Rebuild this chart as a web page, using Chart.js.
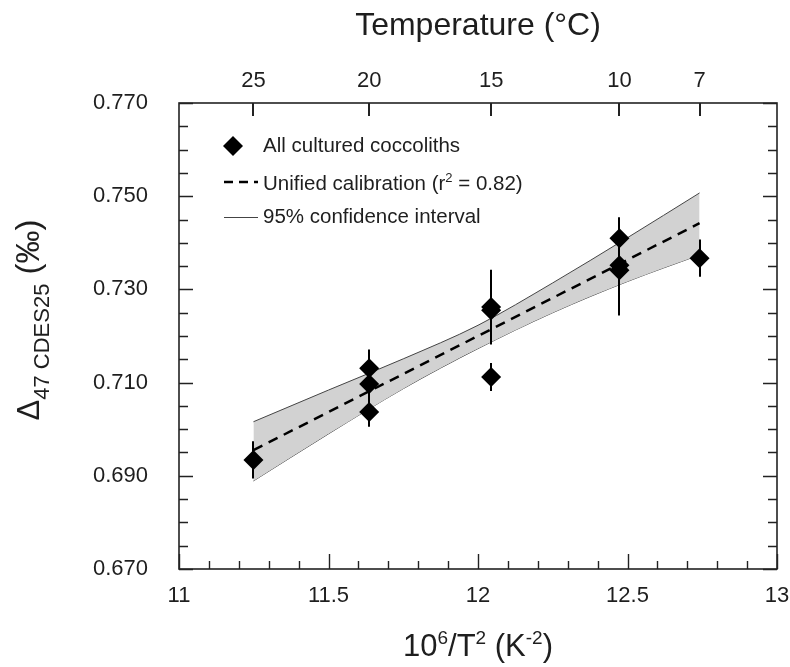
<!DOCTYPE html>
<html><head><meta charset="utf-8">
<script src="https://cdn.jsdelivr.net/npm/chart.js@4/dist/chart.umd.min.js"></script>
<style>html,body{margin:0;padding:0;background:#fff;} #wrap{width:790px;height:667px;}</style>
</head><body><div id="wrap"><canvas id="c" width="790" height="667"></canvas></div>
<script>
// ---- data ----
const invT2   = [11.249, 11.636, 11.636, 11.636, 12.044, 12.044, 12.044, 12.473, 12.473, 12.473, 12.741];
const d47     = [0.6934, 0.7131, 0.7097, 0.7037, 0.7262, 0.7255, 0.7112, 0.7410, 0.7352, 0.7341, 0.7367];
const d47Err  = [0.0040, 0.0040, 0.0030, 0.0032, 0.0080, 0.0060, 0.0030, 0.0045, 0.0060, 0.0097, 0.0040];
const fitX    = [11.249, 12.741];
const fitY    = [0.6955, 0.7442];
const bandX     = [11.249, 11.5, 11.75, 12.0, 12.25, 12.5, 12.741];
const bandUpper = [0.7016, 0.7084, 0.7151, 0.7223, 0.7314, 0.7411, 0.7507];
const bandLower = [0.6889, 0.6990, 0.7087, 0.7173, 0.7250, 0.7317, 0.7374];
const yTickVals   = [0.670, 0.690, 0.710, 0.730, 0.750, 0.770];
const yTickLabels = ['0.670', '0.690', '0.710', '0.730', '0.750', '0.770'];
const xTickVals   = [11, 11.5, 12, 12.5, 13];
const xTickLabels = ['11', '11.5', '12', '12.5', '13'];
const tempTickPos    = [11.249, 11.636, 12.044, 12.473, 12.741];
const tempTickLabels = ['25', '20', '15', '10', '7'];
const legendLabels = ['All cultured coccoliths', 'Unified calibration (r', '95% confidence interval'];

const FONT = '"Liberation Sans", Arial, sans-serif';
const TXT = '#1e1e1e';

function pts(xs, ys) { return xs.map((x, i) => ({x: x, y: ys[i]})); }

const decor = {
  id: 'decor',
  afterDatasetsDraw(chart) {
    const ctx = chart.ctx, xs = chart.scales.x, ys = chart.scales.y;
    ctx.save();
    ctx.strokeStyle = '#000';
    ctx.lineWidth = 2;
    for (let i = 0; i < invT2.length; i++) {
      const px = Math.round(xs.getPixelForValue(invT2[i]));
      ctx.beginPath();
      ctx.moveTo(px, ys.getPixelForValue(d47[i] + d47Err[i]));
      ctx.lineTo(px, ys.getPixelForValue(d47[i] - d47Err[i]));
      ctx.stroke();
    }
    ctx.restore();
  },
  afterDraw(chart) {
    const ctx = chart.ctx, a = chart.chartArea, xs = chart.scales.x, ys = chart.scales.y;
    ctx.save();
    ctx.strokeStyle = '#222';
    ctx.lineWidth = 1.6;
    ctx.strokeRect(a.left, a.top, a.right - a.left, a.bottom - a.top);
    ctx.lineWidth = 1.4;
    // y ticks (left and right, inward)
    for (let i = 0; i <= 20; i++) {
      const v = 0.670 + i * 0.005;
      const py = Math.round(ys.getPixelForValue(v)) + 0.5;
      const len = (i % 4 === 0) ? 14 : 9;
      ctx.beginPath();
      ctx.moveTo(a.left, py); ctx.lineTo(a.left + len, py);
      ctx.moveTo(a.right, py); ctx.lineTo(a.right - len, py);
      ctx.stroke();
    }
    // x ticks bottom
    for (let i = 0; i <= 20; i++) {
      const v = 11 + i * 0.1;
      const px = Math.round(xs.getPixelForValue(v)) + 0.5;
      const len = (i % 5 === 0) ? 15 : 8;
      ctx.beginPath();
      ctx.moveTo(px, a.bottom); ctx.lineTo(px, a.bottom - len);
      ctx.stroke();
    }
    // top temperature ticks
    ctx.lineWidth = 2;
    tempTickPos.forEach(v => {
      const px = Math.round(xs.getPixelForValue(v));
      ctx.beginPath(); ctx.moveTo(px, a.top); ctx.lineTo(px, a.top + 13); ctx.stroke();
    });
    // tick labels
    ctx.fillStyle = TXT;
    ctx.font = '22px ' + FONT;
    ctx.textAlign = 'right'; ctx.textBaseline = 'middle';
    yTickVals.forEach((v, i) => ctx.fillText(yTickLabels[i], a.left - 31, ys.getPixelForValue(v)));
    ctx.textAlign = 'center'; ctx.textBaseline = 'middle';
    xTickVals.forEach((v, i) => ctx.fillText(xTickLabels[i], xs.getPixelForValue(v), a.bottom + 27));
    tempTickPos.forEach((v, i) => ctx.fillText(tempTickLabels[i], xs.getPixelForValue(v), a.top - 22));
    // titles
    ctx.font = '32px ' + FONT;
    ctx.textBaseline = 'alphabetic';
    ctx.textAlign = 'center';
    ctx.fillText('Temperature (°C)', (a.left + a.right) / 2, 35);
    // bottom title with superscripts
    const parts = [['10', 31, 0], ['6', 19, -12], ['/T', 31, 0], ['2', 19, -12], [' (K', 31, 0], ['-2', 19, -12], [')', 31, 0]];
    drawParts(ctx, parts, (a.left + a.right) / 2, 656);
    // y title rotated
    ctx.save();
    ctx.translate(39, 320);
    ctx.rotate(-Math.PI / 2);
    const yparts = [['\u0394', 31, 0], ['47 CDES25', 22, 10], [' (\u2030)', 33, 0]];
    drawParts(ctx, yparts, 0, 0);
    ctx.restore();
    // legend
    const lx = 233, rows = [146, 182, 217], tx = 263;
    ctx.fillStyle = '#000';
    ctx.beginPath();
    ctx.moveTo(lx - 10, rows[0]); ctx.lineTo(lx, rows[0] - 10); ctx.lineTo(lx + 10, rows[0]); ctx.lineTo(lx, rows[0] + 10);
    ctx.closePath(); ctx.fill();
    ctx.strokeStyle = '#000'; ctx.lineWidth = 2.5; ctx.setLineDash([9, 6]);
    ctx.beginPath(); ctx.moveTo(224, rows[1]); ctx.lineTo(258, rows[1]); ctx.stroke();
    ctx.setLineDash([]);
    ctx.strokeStyle = '#444'; ctx.lineWidth = 1;
    ctx.beginPath(); ctx.moveTo(224, rows[2] + 0.5); ctx.lineTo(258, rows[2] + 0.5); ctx.stroke();
    ctx.fillStyle = TXT;
    ctx.textAlign = 'left'; ctx.textBaseline = 'middle';
    ctx.font = '20.5px ' + FONT;
    ctx.fillText(legendLabels[0], tx, rows[0]);
    drawPartsLeft(ctx, [[legendLabels[1], 20.5, 0], ['2', 13, -8], [' = 0.82)', 20.5, 0]], tx, rows[1] + 7.5);
    ctx.textBaseline = 'middle';
    ctx.textAlign = 'left';
    ctx.font = '20.5px ' + FONT;
    ctx.fillText(legendLabels[2], tx, rows[2]);
    ctx.restore();
  }
};

function drawParts(ctx, parts, cx, baseY) {
  let total = 0;
  parts.forEach(p => { ctx.font = p[1] + 'px ' + FONT; total += ctx.measureText(p[0]).width; });
  drawPartsLeft(ctx, parts, cx - total / 2, baseY);
}
function drawPartsLeft(ctx, parts, x, baseY) {
  ctx.textAlign = 'left'; ctx.textBaseline = 'alphabetic';
  parts.forEach(p => {
    ctx.font = p[1] + 'px ' + FONT;
    ctx.fillText(p[0], x, baseY + p[2]);
    x += ctx.measureText(p[0]).width;
  });
}

new Chart(document.getElementById('c'), {
  type: 'scatter',
  data: {
    datasets: [
      { label: 'points', data: pts(invT2, d47), pointStyle: 'rectRot', pointRadius: 10, pointHoverRadius: 10,
        backgroundColor: '#000', borderColor: '#000', borderWidth: 0, showLine: false },
      { label: 'fit', data: pts(fitX, fitY), showLine: true, pointRadius: 0, borderColor: '#000',
        borderWidth: 2.5, borderDash: [10, 7], fill: false },
      { label: 'upper', data: pts(bandX, bandUpper), showLine: true, pointRadius: 0, borderColor: '#444',
        borderWidth: 1, backgroundColor: '#d2d2d2', fill: '+1', cubicInterpolationMode: 'monotone' },
      { label: 'lower', data: pts(bandX, bandLower), showLine: true, pointRadius: 0, borderColor: '#444',
        borderWidth: 1, fill: false, cubicInterpolationMode: 'monotone' }
    ]
  },
  options: {
    responsive: false, animation: false, events: [],
    layout: { padding: { left: 179, right: 13, top: 103, bottom: 98 } },
    plugins: { legend: { display: false }, tooltip: { enabled: false } },
    scales: {
      x: { type: 'linear', min: 11, max: 13, display: false },
      y: { type: 'linear', min: 0.670, max: 0.770, display: false }
    }
  },
  plugins: [decor]
});
</script>
</body></html>
